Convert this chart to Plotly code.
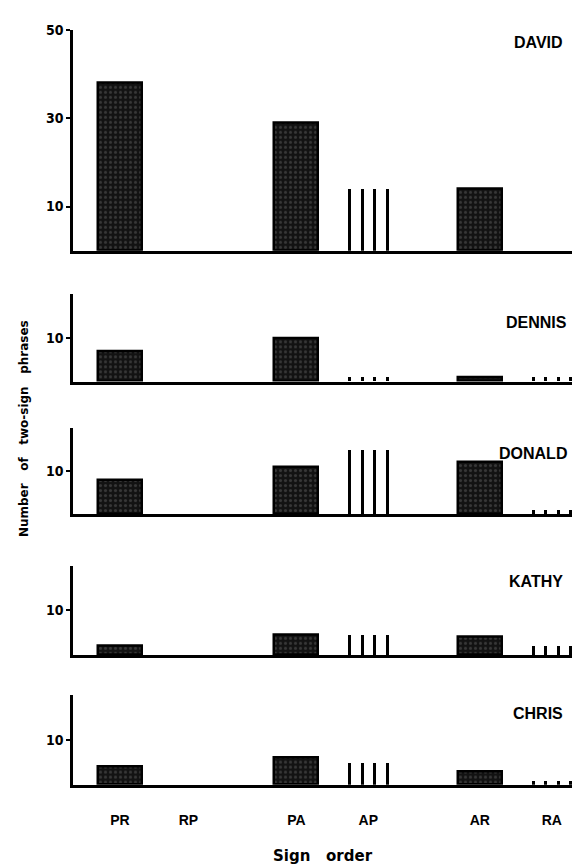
import plotly.graph_objects as go

# ---- data ----
categories = ["PR", "RP", "PA", "AP", "AR", "RA"]
children = ["DAVID", "DENNIS", "DONALD", "KATHY", "CHRIS"]
david = [38, 0, 29, 14, 14, 0]
dennis = [7, 0, 10, 1, 1, 1]
donald = [8, 0, 11, 15, 12, 1]
kathy = [2, 0, 4.5, 4.5, 4, 2]
chris = [4, 0, 6, 5, 3, 1]
values = [david, dennis, donald, kathy, chris]
y_max = [50, 20, 20, 20, 20]
y_ticks = [[10, 30, 50], [10], [10], [10], [10]]

# ---- layout / style ----
W, H = 573, 865
cat_pos = [0, 0.95, 2.45, 3.45, 5.0, 6.0]
solid_cats = ["PR", "RP", "PA", "AR"]
line_cats = ["AP", "RA"]
line_offsets = [-0.26, -0.087, 0.087, 0.26]
# panel pixel extents: (baseline_px, top_px)
panel_px = [(245, 22), (377, 289), (511, 424), (653, 563), (784, 693)]
label_px = [(565, 35), (569, 317), (569, 450), (565, 579), (565, 712)]
x_left_px, x_right_px = 73, 572
x_range = [-0.653, 6.28]
tick_family = "Liberation Sans Narrow, DejaVu Sans Condensed, Liberation Sans"

fig = go.Figure()
layout = dict(
    width=W, height=H, margin=dict(l=0, r=0, t=0, b=0),
    paper_bgcolor="white", plot_bgcolor="white",
    showlegend=False, barmode="overlay", bargap=0,
)
annotations = []

for i, (name, vals) in enumerate(zip(children, values)):
    sfx = "" if i == 0 else str(i + 1)
    xa, ya = "x" + sfx, "y" + sfx
    idx_s = [categories.index(c) for c in solid_cats]
    sv = [vals[j] for j in idx_s]
    fig.add_trace(go.Bar(
        x=[cat_pos[j] for j in idx_s], y=sv,
        width=0.61, xaxis=xa, yaxis=ya,
        marker=dict(color="#141414",
                    line=dict(color="black", width=[2.5 if v > 0 else 0 for v in sv]),
                    pattern=dict(shape=".", fgcolor="#5c5c5c", bgcolor="#121212",
                                 size=5, solidity=0.3)),
        hoverinfo="skip",
    ))
    idx_l = [categories.index(c) for c in line_cats]
    lx, ly = [], []
    for j in idx_l:
        for o in line_offsets:
            lx.append(cat_pos[j] + o)
            ly.append(vals[j])
    fig.add_trace(go.Bar(
        x=lx, y=ly, width=0.042, xaxis=xa, yaxis=ya,
        marker=dict(color="black", line=dict(width=0)),
        hoverinfo="skip",
    ))
    base, top = panel_px[i]
    last = i == len(children) - 1
    layout["xaxis" + sfx] = dict(
        domain=[x_left_px / W, x_right_px / W], range=x_range, anchor=ya,
        showline=True, linewidth=3, linecolor="black",
        showgrid=False, zeroline=False, ticks="",
        showticklabels=last,
        tickvals=cat_pos if last else None,
        ticktext=categories if last else None,
        tickfont=dict(family="Liberation Sans", size=14, color="black", weight=700),
        ticklabelstandoff=20,
    )
    layout["yaxis" + sfx] = dict(
        domain=[1 - base / H, 1 - top / H], range=[0, y_max[i]], anchor=xa,
        showline=True, linewidth=2.5, linecolor="black",
        showgrid=False, zeroline=False,
        tickvals=y_ticks[i], ticks="outside", ticklen=4, tickwidth=1.5,
        tickcolor="black",
        tickfont=dict(family=tick_family, size=14, color="black", weight=700),
    )
    lx_px, ly_px = label_px[i]
    annotations.append(dict(
        text=name, xref="paper", yref="paper", x=lx_px / W, y=1 - ly_px / H,
        xanchor="right", yanchor="middle", showarrow=False,
        font=dict(family="Liberation Sans", size=16, color="black", weight=700),
    ))

nb = "\u00a0"
annotations.append(dict(
    text=f"Number{nb*3}of{nb*3}two-sign{nb*3}phrases",
    xref="paper", yref="paper", x=24 / W, y=1 - 425 / H, textangle=-90,
    xanchor="center", yanchor="middle", showarrow=False,
    font=dict(family="DejaVu Sans", size=12, color="black", weight=700),
))
annotations.append(dict(
    text=f"Sign{nb*3}order",
    xref="paper", yref="paper", x=323 / W, y=1 - 856 / H,
    xanchor="center", yanchor="middle", showarrow=False,
    font=dict(family="DejaVu Sans", size=15, color="black", weight=700),
))
layout["annotations"] = annotations
fig.update_layout(**layout)
fig.write_html("out.html")
